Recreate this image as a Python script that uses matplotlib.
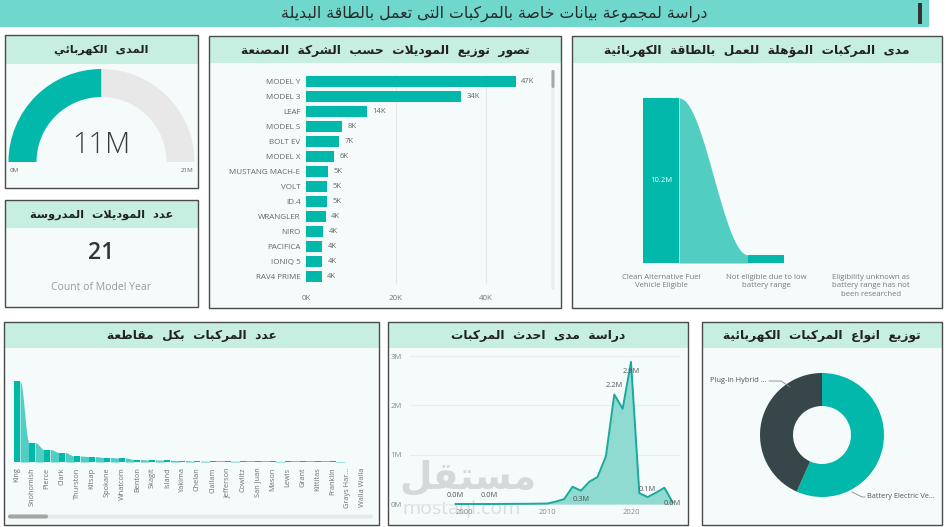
import numpy as np
import matplotlib
matplotlib.use("Agg")
import matplotlib.pyplot as plt
from matplotlib.patches import Rectangle, Wedge, FancyBboxPatch

# ------------------------------------------------------------------ data
header_title = "دراسة لمجموعة بيانات خاصة بالمركبات التى تعمل بالطاقة البديلة"
title_gauge = "المدى  الكهربائي"
title_count = "عدد  الموديلات  المدروسة"
title_models = "تصور  توزيع  الموديلات  حسب  الشركة  المصنعة"
title_elig = "مدى  المركبات  المؤهلة  للعمل  بالطاقة  الكهربائية"
title_county = "عدد  المركبات  بكل  مقاطعة"
title_years = "دراسة  مدى  احدث  المركبات"
title_types = "توزيع  انواع  المركبات  الكهربائية"

gauge_value_m = 10.6
gauge_max_m = 21.2
model_year_count = 21
count_caption = "Count of Model Year"

models = ["MODEL Y", "MODEL 3", "LEAF", "MODEL S", "BOLT EV", "MODEL X",
          "MUSTANG MACH-E", "VOLT", "ID.4", "WRANGLER", "NIRO", "PACIFICA",
          "IONIQ 5", "RAV4 PRIME"]
model_counts_k = [46.6, 34.4, 13.6, 8.0, 7.3, 6.2, 4.9, 4.7, 4.7, 4.4, 3.8, 3.6, 3.6, 3.5]
model_ticks_k = [0, 20, 40]

eligibility = ["Clean Alternative Fuel\nVehicle Eligible",
               "Not eligible due to low\nbattery range",
               "Eligibility unknown as\nbattery range has not\nbeen researched"]
eligibility_m = [10.2, 0.5, 0.0]

counties = ["King", "Snohomish", "Pierce", "Clark", "Thurston", "Kitsap", "Spokane",
            "Whatcom", "Benton", "Skagit", "Island", "Yakima", "Chelan", "Clallam",
            "Jefferson", "Cowlitz", "San Juan", "Mason", "Lewis", "Grant", "Kittitas",
            "Franklin", "Grays Har...", "Walla Walla"]
county_counts_k = [81, 19.5, 12.5, 9.5, 6.0, 5.5, 4.5, 4.0, 2.5, 2.0, 1.8, 1.4, 0.9,
                   0.8, 0.8, 0.7, 0.7, 0.7, 0.6, 0.6, 0.6, 0.6, 0.5, 0.5]

years = [1999, 2000, 2002, 2003, 2008, 2010, 2011, 2012, 2013, 2014, 2015, 2016,
         2017, 2018, 2019, 2020, 2021, 2022, 2023, 2024, 2025]
year_range_m = [0.0, 0.0, 0.0, 0.0, 0.005, 0.01, 0.05, 0.1, 0.35, 0.27, 0.45, 0.55,
                0.97, 2.22, 1.93, 2.88, 0.22, 0.14, 0.23, 0.33, 0.03]
year_label_years = [1999, 2003, 2014, 2018, 2020, 2022, 2025]
year_ticks = [2000, 2010, 2020]
year_yticks_m = [0, 1, 2, 3]

ev_types = ["Battery Electric Ve...", "Plug-in Hybrid ..."]
ev_share = [56.7, 43.3]

# ------------------------------------------------------------------ arabic shaping
_DUAL = {'ئ': 0xFE89, 'ب': 0xFE8F, 'ت': 0xFE95, 'ث': 0xFE99, 'ج': 0xFE9D, 'ح': 0xFEA1,
         'خ': 0xFEA5, 'س': 0xFEB1, 'ش': 0xFEB5, 'ص': 0xFEB9, 'ض': 0xFEBD, 'ط': 0xFEC1,
         'ظ': 0xFEC5, 'ع': 0xFEC9, 'غ': 0xFECD, 'ف': 0xFED1, 'ق': 0xFED5, 'ك': 0xFED9,
         'ل': 0xFEDD, 'م': 0xFEE1, 'ن': 0xFEE5, 'ه': 0xFEE9, 'ي': 0xFEF1}
_RIGHT = {'آ': 0xFE81, 'أ': 0xFE83, 'ؤ': 0xFE85, 'إ': 0xFE87, 'ا': 0xFE8D, 'ة': 0xFE93,
          'د': 0xFEA9, 'ذ': 0xFEAB, 'ر': 0xFEAD, 'ز': 0xFEAF, 'و': 0xFEED, 'ى': 0xFEEF}
_LAMALEF = {'آ': 0xFEF5, 'أ': 0xFEF7, 'إ': 0xFEF9, 'ا': 0xFEFB}


def shape(text):
    toks = []
    i = 0
    while i < len(text):
        c = text[i]
        if c == 'ل' and i + 1 < len(text) and text[i + 1] in _LAMALEF:
            toks.append(('LA', _LAMALEF[text[i + 1]]))
            i += 2
            continue
        if c in _DUAL:
            toks.append(('D', _DUAL[c]))
        elif c in _RIGHT:
            toks.append(('R', _RIGHT[c]))
        elif c == 'ء':
            toks.append(('N', 0xFE80))
        else:
            toks.append(('X', c))
        i += 1
    out = []
    for k, (kind, val) in enumerate(toks):
        if kind == 'X':
            out.append(val)
            continue
        if kind == 'N':
            out.append(chr(val))
            continue
        prev_j = k > 0 and toks[k - 1][0] == 'D'
        next_j = kind == 'D' and k + 1 < len(toks) and toks[k + 1][0] in ('D', 'R', 'LA')
        if kind == 'D':
            off = 3 if (prev_j and next_j) else 1 if prev_j else 2 if next_j else 0
        else:
            off = 1 if prev_j else 0
        out.append(chr(val + off))
    return ''.join(out[::-1])


def fmt_k(v):
    return f"{int(v + 0.5)}K"


# ------------------------------------------------------------------ figure
W, H = 946, 527
fig = plt.figure(figsize=(W / 100, H / 100), dpi=100)
fig.patch.set_facecolor('white')

TEAL = '#01b8aa'
LIGHT = '#52cdc2'
STRIP = '#c6efe1'
BODY = '#f5fbfb'
EDGE = '#4a4a4a'
AR = ['DejaVu Sans']
LAT = ['Open Sans', 'DejaVu Sans']

bg = fig.add_axes([0, 0, 1, 1])
bg.set_xlim(0, W)
bg.set_ylim(H, 0)
bg.axis('off')


def add_ax(x0, y0, x1, y1):
    a = fig.add_axes([x0 / W, 1 - y1 / H, (x1 - x0) / W, (y1 - y0) / H])
    a.patch.set_alpha(0)
    return a


def panel(x0, y0, x1, y1, th, title, fs=8.8):
    bg.add_patch(Rectangle((x0, y0), x1 - x0, y1 - y0, fc=BODY, ec='none'))
    bg.add_patch(Rectangle((x0, y0), x1 - x0, th, fc=STRIP, ec='none'))
    bg.add_patch(Rectangle((x0, y0), x1 - x0, y1 - y0, fc='none', ec=EDGE, lw=1.0))
    bg.text((x0 + x1) / 2, y0 + th / 2 + 1, shape(title), ha='center', va='center',
            fontsize=fs, fontweight='bold', family=AR, color='#222222')


# header
bg.add_patch(Rectangle((0, 0), 929, 27, fc='#70d7cc', ec='none'))
bg.add_patch(Rectangle((918, 3), 4, 21, fc='#333333', ec='none'))
bg.text(494, 14, shape(header_title), ha='center', va='center', fontsize=11.3,
        family=AR, color='#2a2a2a')

# panels
panel(5, 35, 198, 188, 29, title_gauge, fs=8.2)
panel(5, 200, 198, 307, 28, title_count, fs=8.2)
panel(209, 36, 561, 308, 27, title_models)
panel(572, 36, 942, 308, 27, title_elig)
panel(4, 322, 379, 525, 26, title_county)
panel(388, 322, 688, 525, 26, title_years)
panel(702, 322, 942, 525, 26, title_types)

# ------------------------------------------------------------------ gauge
ag = add_ax(5, 65, 198, 188)
ag.set_xlim(-96.5, 96.5)
ag.set_ylim(-26, 97)
ag.axis('off')
frac = gauge_value_m / gauge_max_m
split = 180 * (1 - frac)
ag.add_patch(Wedge((0, 0), 93, split, 180, width=28, fc=TEAL, ec='none'))
ag.add_patch(Wedge((0, 0), 93, 0, split, width=28, fc='#e8e8e8', ec='none'))
ag.text(0, 17, f"{round(gauge_value_m)}M", ha='center', va='center', fontsize=21,
        fontweight='light', family=LAT, color='#3a3a3a')
ag.text(-92, -9, "0M", ha='left', va='center', fontsize=4.5, family=LAT, color='#666')
ag.text(92, -9, f"{round(gauge_max_m)}M", ha='right', va='center', fontsize=4.5,
        family=LAT, color='#666')

# ------------------------------------------------------------------ count card
bg.text(101, 253, str(model_year_count), ha='center', va='center', fontsize=16.5,
        fontweight='semibold', family=LAT, color='#333333')
bg.text(101, 287, count_caption, ha='center', va='center', fontsize=7.5,
        family=LAT, color='#9a9a9a')

# ------------------------------------------------------------------ model bars
ab = add_ax(306, 74.5, 536, 283.5)
ypos = np.arange(len(models))
ab.barh(ypos, model_counts_k, height=0.74, color=TEAL)
ab.set_xlim(0, 51.1)
ab.set_ylim(len(models) - 0.5, -0.5)
ab.set_yticks(ypos)
ab.set_yticklabels(models, fontsize=5.8, color='#666666', family=LAT)
ab.set_xticks(model_ticks_k)
ab.set_xticklabels([f"{t}K" for t in model_ticks_k], fontsize=5.8, color='#777777', family=LAT)
ab.tick_params(length=0, pad=4)
ab.tick_params(axis='x', pad=8)
for s in ab.spines.values():
    s.set_visible(False)
ab.grid(axis='x', color='#e6e6e6', lw=0.8)
ab.set_axisbelow(True)
for y, v in zip(ypos, model_counts_k):
    ab.text(v + 1.2, y, fmt_k(v), va='center', ha='left', fontsize=5.5,
            color='#666666', family=LAT)
bg.add_patch(FancyBboxPatch((551.5, 70), 3, 220, boxstyle='round,pad=0,rounding_size=1.5',
                            fc='#ececec', ec='none'))
bg.add_patch(FancyBboxPatch((551.5, 70), 3, 18, boxstyle='round,pad=0,rounding_size=1.5',
                            fc='#a8a8a8', ec='none'))

# ------------------------------------------------------------------ eligibility ribbon
ae = add_ax(572, 65, 942, 263)
bw = 36 / 105
ex = np.arange(len(eligibility))
ae.bar(ex, eligibility_m, width=bw, color=TEAL, zorder=3)
for i in range(len(eligibility_m) - 1):
    if eligibility_m[i + 1] <= 0:
        continue
    xs = np.linspace(i + bw / 2, i + 1 - bw / 2, 60)
    t = (xs - xs[0]) / (xs[-1] - xs[0])
    ys = eligibility_m[i] + (eligibility_m[i + 1] - eligibility_m[i]) * (1 - np.cos(np.pi * t)) / 2
    ae.fill_between(xs, 0, ys, color=LIGHT, lw=0, zorder=2)
ae.set_xlim(-0.848, 2.676)
ae.set_ylim(0, 12.24)
ae.text(0, eligibility_m[0] / 2, f"{eligibility_m[0]:.1f}M", ha='center', va='center',
        fontsize=5.5, color='white', family=LAT, zorder=4)
ae.set_xticks(ex)
ae.set_xticklabels(eligibility, fontsize=5.6, color='#7a7a7a', family=LAT, va='top')
for lab in ae.get_xticklabels():
    lab.set_linespacing(1.25)
ae.tick_params(length=0, pad=8)
ae.set_yticks([])
for s in ae.spines.values():
    s.set_visible(False)

# ------------------------------------------------------------------ county ribbon
ac = add_ax(4, 355, 379, 462)
cx = np.arange(len(counties))
cbw = 0.4
for i in range(len(counties) - 1):
    xs = np.linspace(i + cbw / 2, i + 1 - cbw / 2, 40)
    t = (xs - xs[0]) / (xs[-1] - xs[0])
    ys = county_counts_k[i] + (county_counts_k[i + 1] - county_counts_k[i]) * (1 - np.cos(np.pi * t)) / 2
    ac.fill_between(xs, 0, ys, color=LIGHT, lw=0, zorder=2)
ac.bar(cx, county_counts_k, width=cbw, color=TEAL, zorder=3)
ac.set_xlim(-0.864, 24.07)
ac.set_ylim(0, 107)
ac.set_xticks(cx)
ac.set_xticklabels(counties, rotation=90, fontsize=5.3, color='#707070', family=LAT)
ac.tick_params(length=0, pad=4)
ac.set_yticks([])
for s in ac.spines.values():
    s.set_visible(False)
bg.add_patch(FancyBboxPatch((8, 514.5), 365, 4, boxstyle='round,pad=0,rounding_size=2',
                            fc='#e9e9e9', ec='none'))
bg.add_patch(FancyBboxPatch((8, 514.5), 40, 4, boxstyle='round,pad=0,rounding_size=2',
                            fc='#a5a5a5', ec='none'))

# ------------------------------------------------------------------ model year area
aa = add_ax(410, 350, 680, 508)
aa.fill_between(years, 0, year_range_m, color='#8fdad1', lw=0, zorder=2)
aa.plot(years, year_range_m, color='#1aa99d', lw=1.4, zorder=3)
aa.set_xlim(1993.53, 2025.87)
aa.set_ylim(-0.081, 3.122)
aa.set_yticks(year_yticks_m)
aa.set_yticklabels([f"{t}M" for t in year_yticks_m], fontsize=5.5, color='#888888', family=LAT)
aa.set_xticks(year_ticks)
aa.set_xticklabels([str(t) for t in year_ticks], fontsize=5.5, color='#888888', family=LAT)
aa.tick_params(length=0)
aa.tick_params(axis='y', pad=6)
aa.tick_params(axis='x', pad=1)
aa.grid(axis='y', color='#e9eded', lw=0.8)
aa.set_axisbelow(True)
for s in aa.spines.values():
    s.set_visible(False)
label_offsets = {1999: (0, 9), 2003: (0, 9), 2014: (0, -9), 2018: (0, 9),
                 2020: (0, -10), 2022: (0, 8), 2025: (0, -1)}
for yr in year_label_years:
    v = year_range_m[years.index(yr)]
    dx, dy = label_offsets[yr]
    aa.annotate(f"{v:.1f}M", (yr, v), xytext=(dx, dy), textcoords='offset pixels',
                ha='center', va='center', fontsize=5.3, color='#555555', family=LAT, zorder=4)

# watermark (source-site overlay)
bg.text(468, 478, shape("مستقل"), ha='center', va='center', fontsize=27,
        fontweight='bold', family=AR, color='#9a9a9a', alpha=0.35, zorder=5)
bg.text(462, 509, "mostaql.com", ha='center', va='center', fontsize=14,
        family=LAT, color='#9a9a9a', alpha=0.3, zorder=5)

# ------------------------------------------------------------------ donut
ad = add_ax(702, 348, 942, 525)
ad.pie(ev_share, radius=62, startangle=90, counterclock=False,
       colors=[TEAL, '#374649'], wedgeprops=dict(width=33, edgecolor='none'))
ad.set_xlim(-120, 120)
ad.set_ylim(-90, 87)
ad.set_aspect('equal')
ad.plot([30, 40, 43], [-57, -62, -62], color='#888888', lw=0.6)
ad.text(45, -62, ev_types[0], ha='left', va='center', fontsize=5.3, color='#555555', family=LAT)
ad.plot([-32, -41, -53], [48, 54, 54], color='#888888', lw=0.6)
ad.text(-55, 54, ev_types[1], ha='right', va='center', fontsize=5.3, color='#555555', family=LAT)

fig.savefig('out.png', dpi=100)
